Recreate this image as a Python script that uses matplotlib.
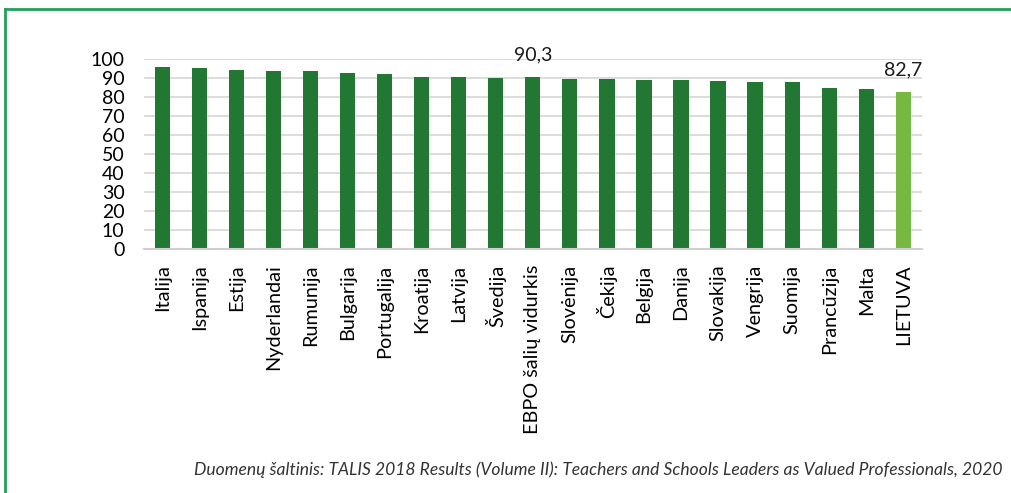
import numpy as np
import matplotlib.pyplot as plt
from matplotlib.lines import Line2D

countries = ['Italija', 'Ispanija', 'Estija', 'Nyderlandai', 'Rumunija', 'Bulgarija',
             'Portugalija', 'Kroatija', 'Latvija', 'Švedija', 'EBPO šalių vidurkis',
             'Slovėnija', 'Čekija', 'Belgija', 'Danija', 'Slovakija', 'Vengrija',
             'Suomija', 'Prancūzija', 'Malta', 'LIETUVA']
values = [95.9, 95.4, 94.2, 93.9, 93.7, 92.5, 92.1, 90.5, 90.5, 90.2, 90.3,
          89.5, 89.3, 89.0, 89.0, 88.4, 87.9, 87.9, 84.6, 84.5, 82.7]
labelled = ['EBPO šalių vidurkis', 'LIETUVA']
source = 'Duomenų šaltinis: TALIS 2018 Results (Volume II): Teachers and Schools Leaders as Valued Professionals, 2020'

plt.rcParams['font.family'] = ['Lato', 'DejaVu Sans']

fig = plt.figure(figsize=(10.11, 4.93), dpi=100)
ax = fig.add_axes([0.1424, 0.4943, 0.7693, 0.386])

x = np.arange(len(countries))
colors = ['#77b843' if c == 'LIETUVA' else '#227733' for c in countries]
ax.bar(x, values, width=0.41, color=colors, zorder=3)

for i, (c, v) in enumerate(zip(countries, values)):
    if c in labelled:
        ax.annotate(f'{v:.1f}'.replace('.', ','), (i, v), xytext=(0, 12),
                    textcoords='offset points', ha='center', va='baseline',
                    fontsize=14, color='#1a1a1a')

ax.set_xlim(-0.5, len(countries) - 0.5)
ax.set_ylim(0, 100)
ax.set_yticks(range(0, 101, 10))
ax.set_xticks(x)
ax.set_xticklabels(countries, rotation=90, fontsize=14.3)
ax.tick_params(axis='y', length=0, pad=14, labelsize=14)
ax.tick_params(axis='x', length=0, pad=11)
ax.grid(axis='y', color='#d9d9d9', linewidth=1.3, zorder=0)
ax.set_axisbelow(True)
for s in ['top', 'right', 'left']:
    ax.spines[s].set_visible(False)
ax.spines['bottom'].set_color('#d0d0d0')
ax.spines['bottom'].set_linewidth(1.5)
ax.spines['bottom'].set_zorder(4)

# green frame around the chart box
fig.add_artist(Line2D([0.005, 1.0], [0.981, 0.981], color='#22a05a', linewidth=2))
fig.add_artist(Line2D([0.005, 0.005], [0.0, 0.981], color='#22a05a', linewidth=2))

fig.text(0.992, 0.047, source, ha='right', va='center', fontsize=12.6,
         style='italic', color='#333333')

fig.savefig('out.png', dpi=100)
